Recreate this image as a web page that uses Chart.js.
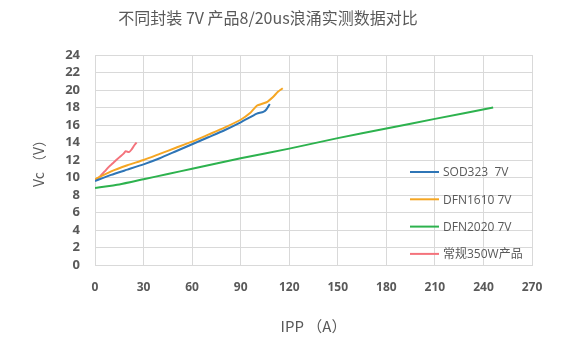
<!DOCTYPE html>
<html>
<head>
<meta charset="utf-8">
<script src="https://cdn.jsdelivr.net/npm/chart.js@4"></script>
<style>
  html, body { margin: 0; padding: 0; background: #ffffff; }
  #wrap { width: 573px; height: 342px; }
</style>
</head>
<body>
<div id="wrap"><canvas id="surgeChart" width="573" height="342"></canvas></div>
<script>
// Vc vs IPP, 8/20us surge test, four packages
const seriesNames = ["SOD323  7V", "DFN1610 7V", "DFN2020 7V", "常规350W产品"];
const seriesColors = ["#2e75b6", "#f5a623", "#2db24e", "#f4737c"];

const sodIpp = [0, 10, 20, 30, 40, 50, 60, 70, 80, 90, 96, 100, 104, 106, 108];
const sodVc = [9.6, 10.3, 10.9, 11.5, 12.2, 13.0, 13.8, 14.6, 15.4, 16.3, 16.9, 17.3, 17.5, 17.8, 18.4];

const dfn1610Ipp = [0, 10, 20, 30, 40, 50, 60, 70, 80, 90, 96, 100, 106, 110, 113, 116];
const dfn1610Vc = [9.8, 10.7, 11.4, 12.0, 12.7, 13.4, 14.1, 14.9, 15.7, 16.6, 17.4, 18.2, 18.6, 19.2, 19.8, 20.2];

const dfn2020Ipp = [0, 15, 30, 45, 60, 90, 120, 150, 180, 210, 246];
const dfn2020Vc = [8.8, 9.2, 9.8, 10.4, 11.0, 12.2, 13.3, 14.5, 15.6, 16.7, 18.0];

const stdIpp = [0, 3, 6, 9, 12, 15, 17.5, 19, 21, 22.6, 24, 25.7];
const stdVc = [9.6, 10.1, 10.7, 11.3, 11.8, 12.3, 12.7, 13.0, 12.9, 13.2, 13.6, 14.0];

const xTicks = [0, 30, 60, 90, 120, 150, 180, 210, 240, 270];
const yTicks = [0, 2, 4, 6, 8, 10, 12, 14, 16, 18, 20, 22, 24];

function toPoints(xs, ys) {
  return xs.map((x, i) => ({ x: x, y: ys[i] }));
}

const allX = [sodIpp, dfn1610Ipp, dfn2020Ipp, stdIpp];
const allY = [sodVc, dfn1610Vc, dfn2020Vc, stdVc];

const datasets = seriesNames.map((name, i) => ({
  label: name,
  data: toPoints(allX[i], allY[i]),
  borderColor: seriesColors[i],
  backgroundColor: seriesColors[i],
  borderWidth: 2,
  pointRadius: 0,
  tension: 0.15,
  showLine: true,
}));

// legend sits inside the plot, lower right
const innerLegend = {
  id: "innerLegend",
  afterDraw(chart) {
    const ctx = chart.ctx;
    const area = chart.chartArea;
    const x0 = area.right - 122;
    const y0 = area.top + 117;
    ctx.save();
    ctx.font = "12px 'Open Sans', 'Noto Sans CJK SC', sans-serif";
    ctx.textBaseline = "middle";
    ctx.textAlign = "left";
    chart.data.datasets.forEach((ds, i) => {
      const y = y0 + i * 27.3;
      ctx.strokeStyle = ds.borderColor;
      ctx.lineWidth = 2;
      ctx.beginPath();
      ctx.moveTo(x0, y);
      ctx.lineTo(x0 + 29, y);
      ctx.stroke();
      ctx.fillStyle = "#595959";
      ctx.fillText(ds.label, x0 + 33, y + 1);
    });
    ctx.restore();
  },
};

new Chart(document.getElementById("surgeChart"), {
  type: "scatter",
  data: { datasets: datasets },
  options: {
    responsive: false,
    animation: false,
    layout: { padding: { left: 4, right: 41, top: 0, bottom: 0 } },
    plugins: {
      legend: { display: false },
      tooltip: { enabled: false },
      title: {
        display: true,
        text: "不同封装 7V 产品8/20us浪涌实测数据对比",
        color: "#595959",
        font: { family: "'Noto Sans CJK SC', sans-serif", size: 16, weight: "normal", lineHeight: 1.2 },
        padding: { top: 8, bottom: 27.8 },
      },
    },
    scales: {
      x: {
        type: "linear",
        min: 0,
        max: 270,
        afterBuildTicks(scale) {
          scale.ticks = xTicks.map((v) => ({ value: v }));
        },
        afterFit(scale) {
          scale.height = 77;
        },
        grid: { color: "#d9d9d9", drawTicks: false },
        border: { color: "#d9d9d9" },
        ticks: { color: "#595959", font: { family: "'Open Sans', sans-serif", size: 12, weight: "bold" }, padding: 15, maxRotation: 0, autoSkip: false },
        title: {
          display: true,
          text: "IPP （A）",
          color: "#595959",
          font: { family: "'Noto Sans CJK SC', sans-serif", size: 15, lineHeight: 1.2 },
          padding: { top: 0, bottom: 7 },
        },
      },
      y: {
        min: 0,
        max: 24,
        afterBuildTicks(scale) {
          scale.ticks = yTicks.map((v) => ({ value: v }));
        },
        afterFit(scale) {
          scale.width = 91;
        },
        grid: { color: "#d9d9d9", drawTicks: false },
        border: { color: "#d9d9d9" },
        ticks: { color: "#595959", font: { family: "'Open Sans', sans-serif", size: 13, weight: "bold" }, padding: 15, autoSkip: false },
        title: {
          display: true,
          text: "Vc （V）",
          color: "#595959",
          font: { family: "'Noto Sans CJK SC', sans-serif", size: 14, lineHeight: 1.2 },
          padding: { top: 26, bottom: 0 },
        },
      },
    },
  },
  plugins: [innerLegend],
});
</script>
</body>
</html>
